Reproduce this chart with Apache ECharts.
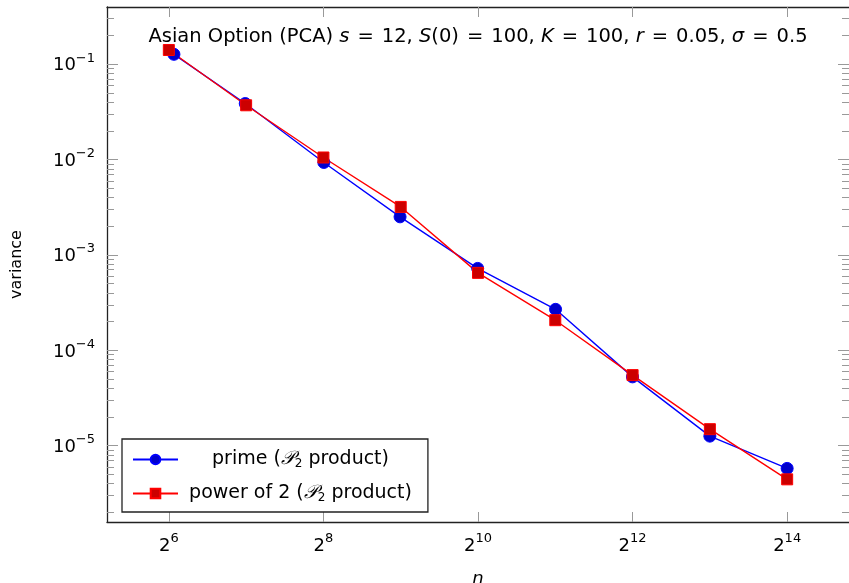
<!DOCTYPE html>
<html>
<head>
<meta charset="utf-8">
<script src="https://cdn.jsdelivr.net/npm/echarts@6/dist/echarts.min.js"></script>
<style>
  html, body { margin: 0; padding: 0; background: #fff; }
  #chart { width: 849px; height: 583px; }
</style>
</head>
<body>
<div id="chart"></div>
<script>
// sample sizes n and estimated variances
const primeN = [67, 127, 257, 509, 1021, 2053, 4093, 8191, 16381]
const primeVar = [0.127, 0.0387, 0.00933, 0.00251, 7.23e-4, 2.69e-4, 5.27e-5, 1.26e-5, 5.78e-6]
const pow2N = [64, 128, 256, 512, 1024, 2048, 4096, 8192, 16384]
const pow2Var = [0.141, 0.0371, 0.01052, 0.00319, 6.49e-4, 2.07e-4, 5.5e-5, 1.49e-5, 4.44e-6]

// tick exponents: 2^k on x, 10^k on y
const xTickExps = [6, 8, 10, 12, 14]
const yTickExps = [-5, -4, -3, -2, -1]
const yMinorDecades = [-6, -5, -4, -3, -2, -1]
const minorMults = [2, 3, 4, 5, 6, 7, 8, 9]

const xRange = [5.2, 14.8]
const yRange = [-5.8, -0.4]

const FONT = 'DejaVu Sans'
const AXIS_COLOR = '#222'
const TICK_COLOR = '#999'

const xTickVals = xTickExps.map(e => Math.pow(2, e))
const yTickVals = yTickExps.map(e => Math.pow(10, e))
const yMinorVals = []
yMinorDecades.forEach(d => minorMults.forEach(m => {
  const v = m * Math.pow(10, d)
  if (v > Math.pow(10, yRange[0]) && v < Math.pow(10, yRange[1])) yMinorVals.push(v)
}))

const supRich = {
  b: { fontFamily: FONT, fontSize: 18, color: '#000', padding: [3, 0, 0, 0] },
  s: { fontFamily: FONT, fontSize: 13, color: '#000', padding: [0, 0, 12, 0] },
}

function xAxisBase(position) {
  return {
    type: 'log',
    logBase: 2,
    position,
    min: Math.pow(2, xRange[0]),
    max: Math.pow(2, xRange[1]),
    axisLine: { show: true, lineStyle: { color: AXIS_COLOR, width: 1.3 } },
    axisTick: { show: true, inside: true, length: 10, customValues: xTickVals, lineStyle: { color: TICK_COLOR, width: 1 } },
    axisLabel: { show: false },
    splitLine: { show: false },
    minorTick: { show: false },
  }
}

function yAxisBase(position, minor) {
  return {
    type: 'log',
    logBase: 10,
    position,
    min: Math.pow(10, yRange[0]),
    max: Math.pow(10, yRange[1]),
    axisLine: { show: false },
    axisTick: {
      show: true, inside: true, length: minor ? 7 : 11,
      customValues: minor ? yMinorVals : yTickVals,
      lineStyle: { color: TICK_COLOR, width: 1 },
    },
    axisLabel: { show: false },
    splitLine: { show: false },
    minorTick: { show: false },
  }
}

const chart = echarts.init(document.getElementById('chart'))

const xBottom = xAxisBase('bottom')
xBottom.axisLabel = {
  show: true,
  customValues: xTickVals,
  margin: 10,
  formatter: v => `{b|2}{s|${Math.round(Math.log2(v))}}`,
  rich: supRich,
}
xBottom.name = 'n'
xBottom.nameLocation = 'middle'
xBottom.nameGap = 48
xBottom.nameTextStyle = { fontFamily: FONT, fontSize: 18, fontStyle: 'italic', color: '#000' }

const yLeft = yAxisBase('left', false)
yLeft.axisLine = { show: true, lineStyle: { color: AXIS_COLOR, width: 1.3 } }
yLeft.axisLabel = {
  show: true,
  customValues: yTickVals,
  margin: 12,
  formatter: v => `{b|10}{s|−${Math.abs(Math.round(Math.log10(v)))}}`,
  rich: supRich,
}
yLeft.name = 'variance'
yLeft.nameLocation = 'middle'
yLeft.nameGap = 82
yLeft.nameTextStyle = { fontFamily: FONT, fontSize: 16, color: '#000' }

const titleRich = {
  t: { fontFamily: FONT, fontSize: 19.5, fontWeight: 'normal', color: '#000' },
  i: { fontFamily: FONT, fontSize: 19.5, fontWeight: 'normal', color: '#000', fontStyle: 'italic' },
  e: { fontFamily: FONT, fontSize: 19.5, fontWeight: 'normal', color: '#000', padding: [0, 8] },
}

const legendRich = {
  t: { fontFamily: FONT, fontSize: 19, color: '#000', align: 'center' },
  p: { fontFamily: FONT, fontSize: 19, color: '#000', align: 'center', fontStyle: 'italic' },
  u: { fontFamily: FONT, fontSize: 12, color: '#000', align: 'center', padding: [9, 0, 0, 0] },
}

chart.setOption({
  animation: false,
  backgroundColor: '#fff',
  title: {
    text: '{t|Asian Option (PCA) }{i|s}{e|=}{t|12, }{i|S}{t|(0)}{e|=}{t|100, }{i|K}{e|=}{t|100, }{i|r}{e|=}{t|0.05, }{i|σ}{e|=}{t|0.5}',
    left: 473,
    top: 22,
    textAlign: 'center',
    textStyle: { fontWeight: 'normal', rich: titleRich },
  },
  grid: { left: 107, right: 0, top: 7, bottom: 61, containLabel: false, outerBoundsMode: 'none' },
  legend: {
    orient: 'vertical',
    left: 122,
    top: 439,
    itemWidth: 45,
    itemHeight: 12,
    itemGap: 14,
    padding: [11, 16, 8, 10],
    borderColor: AXIS_COLOR,
    borderWidth: 1.3,
    backgroundColor: '#fff',
    formatter: name => `{t|${name} (}{p|𝒫}{u|2}{t| product)}`,
    textStyle: { width: 235, align: 'center', rich: legendRich },
  },
  xAxis: [xBottom, xAxisBase('top')],
  yAxis: [yLeft, yAxisBase('left', true), yAxisBase('right', false), yAxisBase('right', true)],
  series: [
    {
      name: 'prime',
      type: 'line',
      data: primeN.map((n, i) => [n, primeVar[i]]),
      symbol: 'circle',
      symbolSize: 12,
      lineStyle: { color: '#0000ff', width: 1.4 },
      itemStyle: { color: '#0000cc', borderColor: '#0000ff', borderWidth: 1 },
    },
    {
      name: 'power of 2',
      type: 'line',
      data: pow2N.map((n, i) => [n, pow2Var[i]]),
      symbol: 'rect',
      symbolSize: 11,
      lineStyle: { color: '#ff0000', width: 1.4 },
      itemStyle: { color: '#cc0000', borderColor: '#ff0000', borderWidth: 1 },
    },
  ],
})
</script>
</body>
</html>
